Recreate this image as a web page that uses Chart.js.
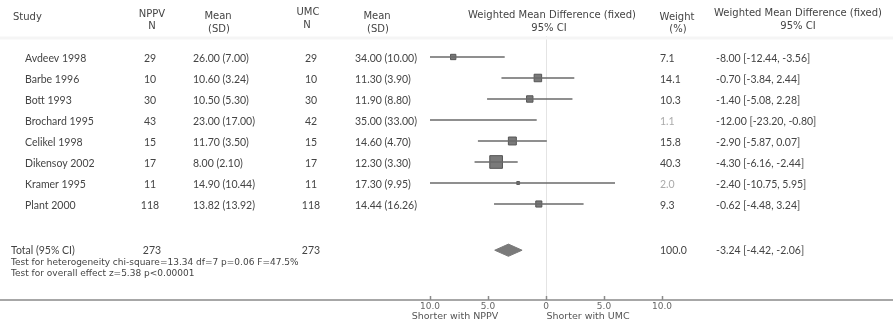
<!DOCTYPE html>
<html>
<head>
<meta charset="utf-8">
<script src="https://cdn.jsdelivr.net/npm/chart.js@4.4.0/dist/chart.umd.min.js"></script>
<style>
  html, body { margin: 0; padding: 0; background: #fff; }
  #wrap { width: 893px; height: 323px; position: relative; }
</style>
</head>
<body>
<div id="wrap"><canvas id="forestChart"></canvas></div>
<script>
// study rows
const studies = ["Avdeev 1998", "Barbe 1996", "Bott 1993", "Brochard 1995", "Celikel 1998", "Dikensoy 2002", "Kramer 1995", "Plant 2000"];
const nppvN = [29, 10, 30, 43, 15, 17, 11, 118];
const nppvMean = [26.00, 10.60, 10.50, 23.00, 11.70, 8.00, 14.90, 13.82];
const nppvSD = [7.00, 3.24, 5.30, 17.00, 3.50, 2.10, 10.44, 13.92];
const umcN = [29, 10, 30, 42, 15, 17, 11, 118];
const umcMean = [34.00, 11.30, 11.90, 35.00, 14.60, 12.30, 17.30, 14.44];
const umcSD = [10.00, 3.90, 8.80, 33.00, 4.70, 3.30, 9.95, 16.26];
const weights = [7.1, 14.1, 10.3, 1.1, 15.8, 40.3, 2.0, 9.3];
const wmd = [-8.00, -0.70, -1.40, -12.00, -2.90, -4.30, -2.40, -0.62];
const ciLow = [-12.44, -3.84, -5.08, -23.20, -5.87, -6.16, -10.75, -4.48];
const ciHigh = [-3.56, 2.44, 2.28, -0.80, 0.07, -2.44, 5.95, 3.24];

// pooled result
const totalN = [273, 273];
const totalWeight = 100.0;
const totalWmd = -3.24;
const totalCi = [-4.42, -2.06];
const heterogeneityText = "Test for heterogeneity chi-square=13.34 df=7 p=0.06 F=47.5%";
const overallText = "Test for overall effect z=5.38 p<0.00001";

// axis
const xTicks = [-10, -5, 0, 5, 10];
const xTickLabels = ["10.0", "5.0", "0", "5.0", "10.0"];

const TOTAL_ROW = 9.2;
const LINE_COL = "#6a6a6a";
const MARK_COL = "#7a7a7a";
const TEXT_COL = "#444";

const fmt = v => v.toFixed(2);

/* CI segments, one dataset per study */
const ciSets = studies.map((s, i) => ({
  type: "scatter",
  showLine: true,
  data: [{ x: ciLow[i], y: i }, { x: ciHigh[i], y: i }],
  borderColor: LINE_COL,
  borderWidth: 1.4,
  pointRadius: 0
}));

/* squares sized by weight */
const markSet = {
  type: "scatter",
  data: wmd.map((v, i) => ({ x: v, y: i })),
  pointStyle: "rect",
  pointRadius: weights.map(w => Math.sqrt(w) * 2 / Math.SQRT2),
  backgroundColor: MARK_COL,
  borderColor: "#555",
  borderWidth: 1
};

/* pooled diamond */
const dh = 0.29;
const diamondSet = {
  type: "scatter",
  showLine: true,
  data: [
    { x: totalCi[0], y: TOTAL_ROW },
    { x: totalWmd, y: TOTAL_ROW - dh },
    { x: totalCi[1], y: TOTAL_ROW },
    { x: totalWmd, y: TOTAL_ROW + dh },
    { x: totalCi[0], y: TOTAL_ROW }
  ],
  borderColor: MARK_COL,
  backgroundColor: MARK_COL,
  borderWidth: 1,
  fill: "shape",
  pointRadius: 0,
  tension: 0
};

function txt(ctx, s, x, y, align, font, color) {
  ctx.font = font;
  ctx.fillStyle = color || TEXT_COL;
  ctx.textAlign = align;
  ctx.textBaseline = "middle";
  ctx.fillText(s, x, y);
}

const tablePlugin = {
  id: "forestTable",
  beforeDatasetsDraw(chart) {
    const { ctx, chartArea } = chart;
    const xs = chart.scales.x;
    ctx.save();
    // line of no effect
    ctx.strokeStyle = "#e4e4e4";
    ctx.lineWidth = 1;
    const x0 = Math.round(xs.getPixelForValue(0)) + 0.5;
    ctx.beginPath();
    ctx.moveTo(x0, 36);
    ctx.lineTo(x0, chartArea.bottom);
    ctx.stroke();
    // faint rule under the header
    ctx.strokeStyle = "#f5f5f5";
    ctx.lineWidth = 3;
    ctx.beginPath();
    ctx.moveTo(0, 38);
    ctx.lineTo(chart.width, 38);
    ctx.stroke();
    ctx.restore();
  },
  afterDraw(chart) {
    const { ctx, chartArea } = chart;
    const xs = chart.scales.x;
    const ys = chart.scales.y;
    ctx.save();
    // axis line across the page, with small ticks above it
    ctx.strokeStyle = "#8a8a8a";
    ctx.lineWidth = 1.5;
    ctx.beginPath();
    ctx.moveTo(0, chartArea.bottom);
    ctx.lineTo(chart.width, chartArea.bottom);
    xTicks.forEach(v => {
      const px = Math.round(xs.getPixelForValue(v)) + 0.5;
      ctx.moveTo(px, chartArea.bottom - 4);
      ctx.lineTo(px, chartArea.bottom);
    });
    ctx.stroke();

    const hf = "10px 'DejaVu Sans'";
    txt(ctx, "Study", 13, 17, "left", hf);
    txt(ctx, "NPPV", 152, 14, "center", hf);
    txt(ctx, "N", 152, 26, "center", hf);
    txt(ctx, "Mean", 218, 16, "center", hf);
    txt(ctx, "(SD)", 219, 29, "center", hf);
    txt(ctx, "UMC", 308, 12, "center", hf);
    txt(ctx, "N", 307, 25, "center", hf);
    txt(ctx, "Mean", 377, 16, "center", hf);
    txt(ctx, "(SD)", 378, 29, "center", hf);
    txt(ctx, "Weighted Mean Difference (fixed)", 552, 15, "center", hf);
    txt(ctx, "95% CI", 549, 28, "center", hf);
    txt(ctx, "Weight", 677, 17, "center", hf);
    txt(ctx, "(%)", 678, 29, "center", hf);
    txt(ctx, "Weighted Mean Difference (fixed)", 798, 13, "center", hf);
    txt(ctx, "95% CI", 798, 26, "center", hf);

    const bf = "10.5px Lato";
    studies.forEach((s, i) => {
      const y = ys.getPixelForValue(i) + 1.5;
      txt(ctx, s, 25, y, "left", bf);
      txt(ctx, String(nppvN[i]), 150, y, "center", bf);
      txt(ctx, fmt(nppvMean[i]) + " (" + fmt(nppvSD[i]) + ")", 193, y, "left", bf);
      txt(ctx, String(umcN[i]), 311, y, "center", bf);
      txt(ctx, fmt(umcMean[i]) + " (" + fmt(umcSD[i]) + ")", 355, y, "left", bf);
      txt(ctx, weights[i].toFixed(1), 660, y, "left", bf, weights[i] < 3 ? "#aaa" : TEXT_COL);
      txt(ctx, fmt(wmd[i]) + " [" + fmt(ciLow[i]) + ", " + fmt(ciHigh[i]) + "]", 716, y, "left", bf);
    });

    const ty = ys.getPixelForValue(TOTAL_ROW);
    txt(ctx, "Total (95% CI)", 11, ty, "left", bf);
    txt(ctx, String(totalN[0]), 152, ty, "center", bf);
    txt(ctx, String(totalN[1]), 311, ty, "center", bf);
    txt(ctx, totalWeight.toFixed(1), 660, ty, "left", bf);
    txt(ctx, fmt(totalWmd) + " [" + fmt(totalCi[0]) + ", " + fmt(totalCi[1]) + "]", 716, ty, "left", bf);

    const sf = "9px 'DejaVu Sans'";
    txt(ctx, heterogeneityText, 11, ty + 12, "left", sf);
    txt(ctx, overallText, 11, ty + 23, "left", sf);

    const af = "9.5px 'DejaVu Sans'";
    txt(ctx, "Shorter with NPPV", 455, 317, "center", af, "#555");
    txt(ctx, "Shorter with UMC", 588, 317, "center", af, "#555");
    ctx.restore();
  }
};

const ctx = document.getElementById("forestChart");

new Chart(ctx, {
  type: "scatter",
  data: { datasets: [...ciSets, markSet, diamondSet] },
  options: {
    responsive: true,
    maintainAspectRatio: false,
    animation: false,
    layout: { padding: { left: 430, right: 231, top: 0, bottom: 0 } },
    plugins: {
      legend: { display: false },
      tooltip: { enabled: false }
    },
    scales: {
      x: {
        type: "linear",
        min: -10,
        max: 10,
        afterBuildTicks: s => { s.ticks = xTicks.map(v => ({ value: v })); },
        afterFit: s => { s.height = 23; },
        ticks: {
          callback: (v, i) => xTickLabels[i],
          font: { family: "DejaVu Sans", size: 9 },
          color: "#666",
          padding: 1,
          maxRotation: 0,
          autoSkip: false
        },
        grid: { display: true, drawOnChartArea: false, drawTicks: false, tickLength: 0 },
        border: { display: false }
      },
      y: {
        type: "linear",
        reverse: true,
        min: -2.238,
        max: 11.571,
        display: false
      }
    }
  },
  plugins: [tablePlugin]
});
</script>
</body>
</html>
